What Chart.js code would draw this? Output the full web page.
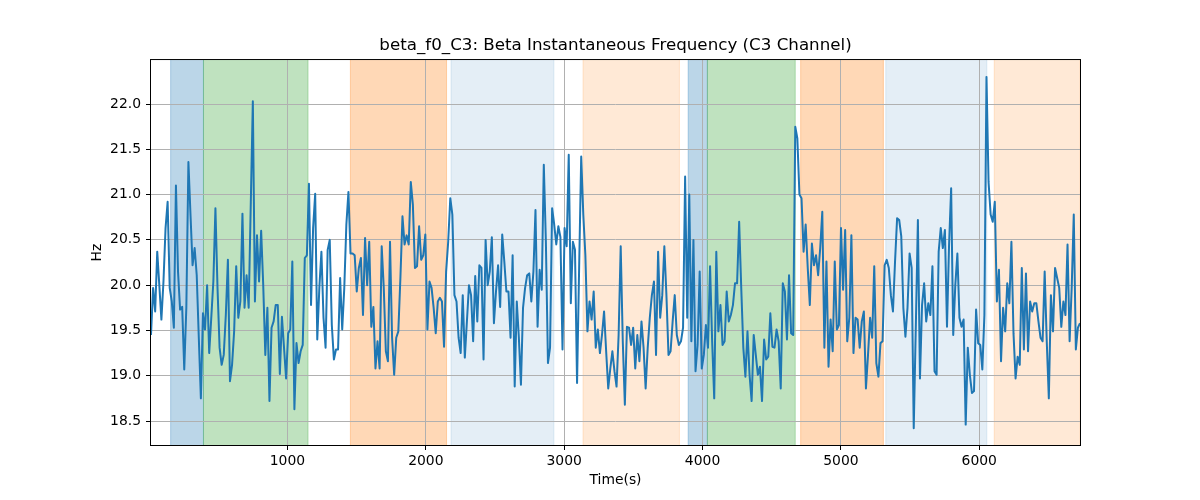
<!DOCTYPE html>
<html>
<head>
<meta charset="utf-8">
<script src="https://cdn.jsdelivr.net/npm/chart.js@4.4.0/dist/chart.umd.min.js"></script>
<style>
  html, body { margin: 0; padding: 0; background: #fff; }
  canvas { display: block; }
</style>
</head>
<body>
<canvas id="chart" width="1200" height="500"></canvas>
<script>
// sampling of the C3 beta frequency track
const T_START = 14;
const T_STEP = 15.02;

const betaF0 = [
  19.45, 19.97, 19.71, 20.37, 20.0, 19.62, 20.04, 20.63, 20.92, 19.97, 19.82,
  19.53, 21.1, 20.15, 19.73, 19.76, 19.07, 19.75, 21.36, 20.78, 20.22,
  20.41, 20.11, 19.42, 18.75, 19.69, 19.51, 20.0, 19.25, 19.64, 20.04,
  20.85, 19.97, 19.31, 19.12, 19.23, 19.67, 20.28, 18.94, 19.12, 19.49,
  20.21, 19.64, 19.82, 20.79, 19.75, 20.11, 19.75, 20.89, 22.03, 19.82,
  20.55, 20.04, 20.6, 20.0, 19.23, 19.75, 18.72,
  19.53, 19.6, 19.78, 19.78, 19.02, 19.65, 19.31, 18.97, 19.47, 19.51,
  20.26, 18.63, 19.36, 19.14, 19.27, 19.34, 20.3, 20.33, 21.12, 19.78,
  20.63, 21.01, 19.4, 19.97, 20.37, 19.64, 19.31, 20.39, 20.5, 19.56,
  19.18, 19.29, 19.29, 20.08, 19.51, 19.97, 20.67, 21.03, 20.35, 20.35,
  20.33, 19.93, 20.19, 20.3, 19.67, 20.52, 20.0, 20.48, 19.54, 19.76,
  19.08, 19.38, 19.08, 20.43, 19.97, 19.27, 19.16,
  20.48, 19.42, 19.01, 19.42, 19.49, 20.08, 20.76, 20.45, 20.55, 20.45,
  21.14, 20.89, 20.19, 20.21, 20.65, 20.28, 20.33, 20.56, 19.51, 20.04,
  19.97, 19.75, 19.47, 19.82, 19.86, 19.82, 19.32, 20.15, 20.48, 20.96,
  20.78, 19.89, 19.82, 19.42, 19.25, 19.89, 19.2, 19.6, 20.0, 19.89,
  19.38, 20.1, 19.6, 20.22, 20.19, 19.18, 20.5, 20.0, 20.15, 20.53,
  19.58, 19.93, 20.22, 19.76, 20.56, 20.26, 19.93, 19.93,
  19.42, 20.33, 18.88, 19.82, 19.42, 18.9, 19.75, 19.97, 20.11, 20.13,
  19.82, 20.15, 20.83, 19.54, 20.17, 19.95, 21.33, 20.48, 19.14, 19.31,
  20.85, 20.67, 20.45, 20.65, 20.53, 19.29, 20.63, 20.43, 21.44, 19.8,
  20.48, 20.39, 18.92, 20.19, 21.42, 20.78, 20.33, 19.49, 19.82, 19.62,
  19.93, 19.31, 19.51, 19.25, 19.45, 19.71, 19.27, 18.86, 19.08, 19.27,
  19.05, 18.88, 19.45, 20.43, 19.38, 18.68, 19.54, 19.53,
  19.34, 19.53, 19.08, 19.45, 19.16, 19.6, 19.31, 18.86, 19.31, 19.64,
  19.89, 20.04, 19.23, 20.37, 19.64, 19.89, 20.43, 19.89, 19.23, 19.27,
  19.6, 19.89, 19.45, 19.34, 19.38, 19.53, 21.2, 19.64, 21.0, 19.38,
  20.5, 19.05, 19.34, 20.15, 19.08, 19.23, 19.56, 19.31, 20.21, 19.38,
  18.75, 20.37, 19.49, 19.78, 19.34, 19.38, 19.93, 19.6, 19.67, 19.78,
  20.02, 20.02, 20.7, 19.97, 19.31, 18.99, 19.49,
  19.01, 18.72, 19.45, 19.23, 19.01, 19.1, 18.72, 19.4, 19.18, 19.21,
  19.69, 19.32, 19.31, 19.51, 19.38, 18.86, 20.02, 19.93, 19.4, 20.11,
  19.47, 19.45, 21.75, 21.62, 21.0, 20.96, 20.37, 20.67, 20.19, 19.78,
  20.46, 20.22, 20.33, 20.11, 20.41, 20.81, 19.31, 20.26, 19.1, 19.62,
  19.27, 20.26, 19.51, 19.56, 20.63, 19.95, 20.61, 19.38, 19.64, 20.55,
  19.25, 19.64, 19.62, 19.31, 19.6, 19.71, 18.86, 19.23,
  19.64, 19.42, 20.21, 19.14, 18.99, 19.36, 19.38, 20.22, 20.28, 20.19,
  19.89, 19.71, 20.26, 20.74, 20.72, 20.54, 19.75, 19.43, 19.75, 20.35,
  20.19, 18.42, 19.54, 20.72, 18.97, 19.78, 20.02, 19.6, 19.8, 19.67,
  20.21, 19.05, 19.01, 20.37, 20.63, 20.41, 20.61, 19.54, 20.45, 21.07,
  19.45, 20.0, 20.35, 19.64, 19.54, 19.62, 18.46, 19.31, 19.01, 18.81,
  18.83, 19.73, 19.36, 19.34, 19.07, 19.67, 22.3,
  21.14, 20.78, 20.7, 20.92, 19.82, 20.17, 19.16, 19.75, 19.49, 20.02,
  19.8, 20.48, 19.47, 18.97, 19.21, 19.12, 20.19, 19.29, 20.13, 19.27,
  19.82, 19.71, 19.8, 19.8, 19.6, 19.42, 19.38, 20.15, 19.38, 18.75,
  19.89, 19.49, 20.19, 20.08, 19.97, 19.54, 19.82, 19.67, 20.45, 19.38,
  19.97, 20.78, 19.29, 19.53, 19.58
];
const times = betaF0.map((_, i) => T_START + i * T_STEP);

// labelled segments (seconds)
const segStart = [156, 393, 1455, 2182, 3136, 3896, 4035, 4709, 5324, 6108];
const segEnd   = [393, 1149, 2150, 2926, 3833, 4035, 4670, 5307, 6055, 6729];
const segKind  = ['blue', 'green', 'orange', 'paleBlue', 'paleOrange',
                  'blue', 'green', 'orange', 'paleBlue', 'paleOrange'];

const xTicks = [1000, 2000, 3000, 4000, 5000, 6000];
const yTicks = [18.5, 19.0, 19.5, 20.0, 20.5, 21.0, 21.5, 22.0];

const segColors = {
  blue: 'rgba(31,119,180,0.3)',
  green: 'rgba(44,160,44,0.3)',
  orange: 'rgba(255,127,14,0.3)',
  paleBlue: 'rgba(31,119,180,0.12)',
  paleOrange: 'rgba(255,127,14,0.17)'
};

const tickFont = { family: 'DejaVu Sans', size: 13.9 };

const spansPlugin = {
  id: 'spans',
  beforeDraw(chart) {
    const { ctx, chartArea: a, scales: { x } } = chart;
    ctx.save();
    ctx.beginPath();
    ctx.rect(a.left, a.top, a.right - a.left, a.bottom - a.top);
    ctx.clip();
    segStart.forEach((s, i) => {
      const x0 = x.getPixelForValue(s);
      const x1 = x.getPixelForValue(segEnd[i]);
      ctx.fillStyle = segColors[segKind[i]];
      ctx.fillRect(x0, a.top, x1 - x0, a.bottom - a.top);
      ctx.strokeStyle = segColors[segKind[i]];
      ctx.lineWidth = 1;
      ctx.strokeRect(x0, a.top - 1, x1 - x0, a.bottom - a.top + 2);
    });
    ctx.restore();
  },
  afterDatasetsDraw(chart) {
    const { ctx, chartArea: a } = chart;
    ctx.save();
    ctx.strokeStyle = '#000';
    ctx.lineWidth = 1;
    ctx.strokeRect(a.left - 0.5, a.top - 0.5, a.right - a.left + 1, a.bottom - a.top + 1);
    ctx.restore();
  }
};

new Chart(document.getElementById('chart'), {
  type: 'line',
  data: {
    datasets: [{
      data: times.map((t, i) => ({ x: t, y: betaF0[i] })),
      borderColor: '#1f77b4',
      borderWidth: 2,
      borderJoinStyle: 'round',
      pointRadius: 0,
      tension: 0,
      fill: false
    }]
  },
  options: {
    responsive: false,
    animation: false,
    events: [],
    layout: { padding: { left: 0, right: 120, top: 0, bottom: 0 } },
    plugins: {
      legend: { display: false },
      tooltip: { enabled: false },
      title: {
        display: true,
        fullSize: false,
        text: 'beta_f0_C3: Beta Instantaneous Frequency (C3 Channel)',
        color: '#000',
        font: { family: 'DejaVu Sans', size: 16.7, weight: 'normal' },
        padding: { top: 36, bottom: 4 }
      }
    },
    scales: {
      x: {
        type: 'linear',
        min: times[0],
        max: times[times.length - 1],
        afterBuildTicks: s => { s.ticks = xTicks.map(v => ({ value: v })); },
        afterFit: s => { s.height = 55; },
        ticks: {
          color: '#000', font: tickFont, padding: 3,
          maxRotation: 0, autoSkip: false,
          callback: v => String(v)
        },
        grid: { color: '#b0b0b0', lineWidth: 1, tickLength: 5, tickColor: '#000' },
        border: { display: false },
        title: {
          display: true, text: 'Time(s)', color: '#000', font: tickFont,
          padding: { top: 0, bottom: 11 }
        }
      },
      y: {
        min: 18.235,
        max: 22.486,
        afterBuildTicks: s => { s.ticks = yTicks.map(v => ({ value: v })); },
        afterFit: s => { s.width = 151; },
        ticks: {
          color: '#000', font: tickFont, padding: 5,
          callback: v => v.toFixed(1)
        },
        grid: { color: '#b0b0b0', lineWidth: 1, tickLength: 5, tickColor: '#000' },
        border: { display: false },
        title: {
          display: true, text: 'Hz', color: '#000', font: tickFont,
          padding: { top: 89, bottom: 0 }
        }
      }
    }
  },
  plugins: [spansPlugin]
});
</script>
</body>
</html>
